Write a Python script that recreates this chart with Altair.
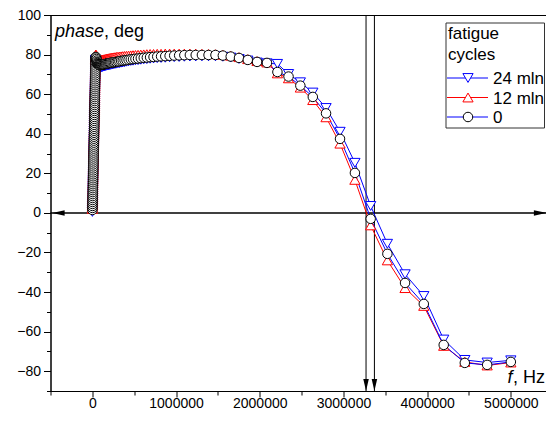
import altair as alt
import pandas as pd

FONT = "Liberation Sans"

# ---------------- data ----------------
# low-frequency points (all drawn at f ~ 0, the dense vertical stack)
freq_low = [
    600, 1100, 1600, 2100, 2600, 3100, 3600, 4100, 4600, 5100,
    5600, 6100, 6600, 7100, 7600, 8100, 8600, 9100, 9600, 10100,
    10600, 11100, 11600, 12100, 12600, 13100, 13600, 14100, 14600, 15100,
    15600, 16100, 16600, 17100, 17600, 18100, 18600, 19100, 19600, 20100,
    20600, 21100, 21600, 22100, 22600, 23100, 23600, 24100, 24600, 25100,
    25600, 26100, 26600, 27100, 27600, 28100, 28600, 29100, 29600, 30100,
    30600, 31100, 31600, 32100, 32600, 33100, 33600, 34100, 34600, 35100,
    35600, 36100, 36600, 37100, 37600, 38100, 38600, 39100, 39600, 40100,
    40600,
]
freq_high = [
    47200, 50000, 53000, 56000, 60000, 63000, 67000, 71000, 75000, 80000,
    85000, 90000, 95000, 101000, 107000, 113000, 120000, 127000, 135000, 143000,
    152000, 161000, 170000, 181000, 191000, 203000, 215000, 228000, 242000, 256000,
    271000, 288000, 305000, 323000, 343000, 363000, 385000, 408000, 433000, 459000,
    486000, 515000, 546000, 579000, 614000, 651000, 690000, 731000, 775000, 821000,
    871000, 923000, 978000, 1037000, 1099000, 1165000, 1235000, 1309000, 1388000, 1471000,
    1559000, 1653000, 1752000, 1857000, 1968000, 2086000, 2211000, 2344000, 2485000, 2634000,
    2792000, 2959000, 3137000, 3325000, 3525000, 3736000, 3960000, 4198000, 4450000, 4717000,
    5000000,
]

phase_0 = [
    1.5, 2.5, 3.5, 4.5, 5.5, 6.5, 7.5, 8.5, 9.5, 10.5,
    11.5, 12.5, 13.5, 14.5, 15.5, 16.5, 17.5, 18.5, 19.5, 20.5,
    21.5, 22.5, 23.5, 24.5, 25.5, 26.5, 27.5, 28.5, 29.5, 30.5,
    31.5, 32.5, 33.5, 34.5, 35.5, 36.5, 37.5, 38.5, 39.5, 40.5,
    41.5, 42.5, 43.5, 44.5, 45.5, 46.5, 47.5, 48.5, 49.5, 50.5,
    51.5, 52.5, 53.5, 54.5, 55.5, 56.5, 57.5, 58.5, 59.5, 60.5,
    61.5, 62.5, 63.5, 64.5, 65.5, 66.5, 67.5, 68.5, 69.5, 70.5,
    71.5, 72.5, 73.5, 74.5, 75.5, 76.3, 77.0, 77.6, 78.1, 78.5,
    78.8,
    78.5, 77.8, 77.0, 76.3, 75.8, 75.4, 75.1, 74.9, 74.8, 74.7,
    74.7, 74.7, 74.7, 74.8, 74.8, 74.9, 74.9, 75.0, 75.1, 75.1,
    75.2, 75.3, 75.4, 75.5, 75.6, 75.7, 75.8, 75.9, 76.0, 76.1,
    76.2, 76.3, 76.5, 76.6, 76.8, 76.9, 77.1, 77.2, 77.4, 77.6,
    77.7, 77.9, 78.0, 78.2, 78.4, 78.5, 78.7, 78.8, 79.0, 79.1,
    79.2, 79.4, 79.5, 79.6, 79.7, 79.8, 79.8, 79.8, 79.8, 79.8,
    79.5, 79.0, 78.3, 77.3, 76.3, 75.8, 71.2, 68.9, 64.3, 58.6,
    50.3, 37.4, 20.2, -3.0, -20.7, -35.4, -46.0, -66.7, -75.8, -76.8,
    -75.3,
]

phase_24 = [
    0.5, 1.5, 2.5, 3.5, 4.5, 5.5, 6.5, 7.5, 8.5, 9.5,
    10.5, 11.5, 12.5, 13.5, 14.5, 15.5, 16.5, 17.5, 18.5, 19.5,
    20.5, 21.5, 22.5, 23.5, 24.5, 25.5, 26.5, 27.5, 28.5, 29.5,
    30.5, 31.5, 32.5, 33.5, 34.5, 35.5, 36.5, 37.5, 38.5, 39.5,
    40.5, 41.5, 42.5, 43.5, 44.5, 45.5, 46.5, 47.5, 48.5, 49.5,
    50.5, 51.5, 52.5, 53.5, 54.5, 55.5, 56.5, 57.5, 58.5, 59.5,
    60.5, 61.5, 62.5, 63.5, 64.5, 65.5, 66.5, 67.5, 68.5, 69.5,
    70.5, 71.5, 72.5, 73.5, 74.5, 75.3, 76.0, 76.5, 76.9, 77.2,
    77.4,
    77.0, 76.3, 75.5, 74.8, 74.3, 73.9, 73.6, 73.5, 73.4, 73.4,
    73.4, 73.4, 73.5, 73.6, 73.6, 73.7, 73.8, 73.9, 74.0, 74.1,
    74.2, 74.3, 74.4, 74.5, 74.6, 74.7, 74.8, 74.9, 75.0, 75.2,
    75.3, 75.4, 75.6, 75.7, 75.9, 76.0, 76.2, 76.4, 76.6, 76.8,
    76.9, 77.1, 77.2, 77.4, 77.6, 77.7, 77.9, 78.0, 78.2, 78.3,
    78.4, 78.6, 78.7, 78.8, 78.9, 79.0, 79.0, 79.1, 79.1, 79.1,
    78.9, 78.5, 77.8, 77.0, 76.0, 75.6, 75.3, 70.2, 66.0, 60.8,
    53.0, 41.0, 25.3, 3.5, -15.6, -31.0, -42.0, -64.0, -74.3, -75.6,
    -74.5,
]

phase_12 = [
    2.0, 3.0, 4.0, 5.0, 6.0, 7.0, 8.0, 9.0, 10.0, 11.0,
    12.0, 13.0, 14.0, 15.0, 16.0, 17.0, 18.0, 19.0, 20.0, 21.0,
    22.0, 23.0, 24.0, 25.0, 26.0, 27.0, 28.0, 29.0, 30.0, 31.0,
    32.0, 33.0, 34.0, 35.0, 36.0, 37.0, 38.0, 39.0, 40.0, 41.0,
    42.0, 43.0, 44.0, 45.0, 46.0, 47.0, 48.0, 49.0, 50.0, 51.0,
    52.0, 53.0, 54.0, 55.0, 56.0, 57.0, 58.0, 59.0, 60.0, 61.0,
    62.0, 63.0, 64.0, 65.0, 66.0, 67.0, 68.0, 69.0, 70.0, 71.0,
    72.0, 73.0, 74.0, 75.0, 76.0, 77.0, 77.8, 78.5, 79.1, 79.6,
    80.0,
    79.8, 79.3, 78.7, 78.2, 77.8, 77.5, 77.3, 77.2, 77.1, 77.1,
    77.1, 77.1, 77.2, 77.2, 77.3, 77.3, 77.4, 77.5, 77.6, 77.6,
    77.7, 77.8, 77.9, 78.0, 78.1, 78.2, 78.3, 78.4, 78.5, 78.6,
    78.7, 78.8, 78.9, 79.0, 79.1, 79.2, 79.3, 79.4, 79.5, 79.6,
    79.7, 79.8, 79.9, 80.0, 80.1, 80.2, 80.3, 80.3, 80.4, 80.4,
    80.5, 80.5, 80.5, 80.5, 80.5, 80.5, 80.5, 80.4, 80.3, 80.2,
    79.9, 79.4, 78.7, 77.7, 76.7, 76.0, 70.5, 68.0, 63.3, 57.0,
    48.3, 35.0, 16.7, -6.3, -24.0, -38.0, -47.0, -67.2, -75.3, -77.1,
    -75.6,
]

series_names = ["24 mln", "12 mln", "0"]
x_ticks = [0, 1000000, 2000000, 3000000, 4000000, 5000000]
x_minor = [-500000, 500000, 1500000, 2500000, 3500000, 4500000]
y_ticks = [-80, -60, -40, -20, 0, 20, 40, 60, 80, 100]
y_minor = [-90, -70, -50, -30, -10, 10, 30, 50, 70, 90]
marker_lines = [3270000, 3370000]
x_domain = [-500000, 5420000]
y_domain = [-90, 100]

# ---------------- tables ----------------
freq = freq_low + freq_high
df = pd.concat(
    [pd.DataFrame({"f": freq, "phase": vals, "series": name})
     for name, vals in zip(series_names, [phase_24, phase_12, phase_0])],
    ignore_index=True,
)
one = pd.DataFrame({"k": [0]})
zero_df = pd.DataFrame({"x": [x_domain[0]], "x2": [x_domain[1]], "y": [0]})
vline_df = pd.DataFrame({"f": marker_lines, "y": [y_domain[0]] * len(marker_lines)})
right_arrow_df = pd.DataFrame({"f": [x_domain[1]], "y": [0]})
left_arrow_df = pd.DataFrame({"f": [x_domain[0]], "y": [0]})

W, H = 495.5, 376
xs = alt.Scale(domain=x_domain, nice=False, zero=False)
ys = alt.Scale(domain=y_domain, nice=False, zero=False)

x_major = alt.Axis(values=x_ticks, format="d", orient="bottom", tickSize=6, labelPadding=-1,
                   domainColor="black", tickColor="black", labelColor="black",
                   labelFont=FONT, labelFontSize=14, grid=False, title=None)
y_major = alt.Axis(values=y_ticks, orient="left", tickSize=7, labelPadding=3,
                   domainColor="black", tickColor="black", labelColor="black",
                   labelFont=FONT, labelFontSize=14, grid=False, title=None)
x_min_ax = alt.Axis(values=x_minor, orient="bottom", labels=False, tickSize=4, domain=False,
                    tickColor="black", grid=False, title=None)
y_min_ax = alt.Axis(values=y_minor, orient="left", labels=False, tickSize=4, domain=False,
                    tickColor="black", grid=False, title=None)

axis_major = alt.Chart(df).mark_point(opacity=0).encode(
    x=alt.X("f:Q", scale=xs, axis=x_major), y=alt.Y("phase:Q", scale=ys, axis=y_major))
axis_minor = alt.Chart(df).mark_point(opacity=0).encode(
    x=alt.X("f:Q", scale=xs, axis=x_min_ax), y=alt.Y("phase:Q", scale=ys, axis=y_min_ax))

X = lambda: alt.X("f:Q", scale=xs, axis=None)
Y = lambda: alt.Y("phase:Q", scale=ys, axis=None)

zero_line = alt.Chart(zero_df).mark_rule(color="black", strokeWidth=1.5).encode(
    x=alt.X("x:Q", scale=xs, axis=None), x2="x2:Q", y=alt.Y("y:Q", scale=ys, axis=None))
vlines = alt.Chart(vline_df).mark_rule(color="black", strokeWidth=1).encode(
    x=alt.X("f:Q", scale=xs, axis=None))
down_arrows = alt.Chart(vline_df).mark_point(
    shape="M0,1L-0.45,-1L0.45,-1Z", filled=True, color="black", opacity=1, size=150, yOffset=-6
).encode(x=alt.X("f:Q", scale=xs, axis=None), y=alt.Y("y:Q", scale=ys, axis=None))
right_arrow = alt.Chart(right_arrow_df).mark_point(
    shape="M1,0L-1,-0.45L-1,0.45Z", filled=True, color="black", opacity=1, size=150, xOffset=-6
).encode(x=alt.X("f:Q", scale=xs, axis=None), y=alt.Y("y:Q", scale=ys, axis=None))
left_arrow = alt.Chart(left_arrow_df).mark_point(
    shape="M-1,0L1,-0.45L1,0.45Z", filled=True, color="black", opacity=1, size=150, xOffset=8
).encode(x=alt.X("f:Q", scale=xs, axis=None), y=alt.Y("y:Q", scale=ys, axis=None))

styles = {
    "24 mln": dict(line="#0000FF", stroke="#0000FF", shape="triangle-down", size=105),
    "12 mln": dict(line="#FF0000", stroke="#FF0000", shape="triangle-up", size=105),
    "0": dict(line="#0000FF", stroke="black", shape="circle", size=90),
}

line_layers = []
point_layers = []
for name in series_names:
    st = styles[name]
    sub = df[df["series"] == name]
    line_layers.append(
        alt.Chart(sub).mark_line(color=st["line"], strokeWidth=1).encode(x=X(), y=Y()))
    point_layers.append(
        alt.Chart(sub).mark_point(shape=st["shape"], size=st["size"], filled=True, fill="white",
                                  stroke=st["stroke"], strokeWidth=1, opacity=1)
        .encode(x=X(), y=Y()))

# axis titles inside the plot
t_phase = alt.Chart(one).mark_text(text="phase", font=FONT, fontSize=18, fontStyle="italic",
                                   align="left", baseline="alphabetic", color="black").encode(
    x=alt.value(4.5), y=alt.value(22))
t_deg = alt.Chart(one).mark_text(text=", deg", font=FONT, fontSize=18,
                                 align="left", baseline="alphabetic", color="black").encode(
    x=alt.value(53.5), y=alt.value(22))
t_hz = alt.Chart(one).mark_text(text=", Hz", font=FONT, fontSize=18,
                                align="right", baseline="alphabetic", color="black").encode(
    x=alt.value(494.5), y=alt.value(368))
t_f = alt.Chart(one).mark_text(text="f", font=FONT, fontSize=18, fontStyle="italic",
                               align="right", baseline="alphabetic", color="black").encode(
    x=alt.value(462), y=alt.value(368))

# legend (drawn by hand)
leg_box = alt.Chart(one).mark_rect(fill="white", stroke="#333333", strokeWidth=1).encode(
    x=alt.value(395.5), x2=alt.value(494), y=alt.value(8), y2=alt.value(113))
leg_title1 = alt.Chart(one).mark_text(text="fatigue", font=FONT, fontSize=17, align="left",
                                      baseline="alphabetic", color="black").encode(
    x=alt.value(397.5), y=alt.value(24))
leg_title2 = alt.Chart(one).mark_text(text="cycles", font=FONT, fontSize=17, align="left",
                                      baseline="alphabetic", color="black").encode(
    x=alt.value(397.5), y=alt.value(45))
legend_layers = [leg_box, leg_title1, leg_title2]
for i, name in enumerate(series_names):
    st = styles[name]
    yy = 63 + 19.5 * i
    legend_layers.append(alt.Chart(one).mark_rule(color=st["line"], strokeWidth=1).encode(
        x=alt.value(396.5), x2=alt.value(437.5), y=alt.value(yy)))
    legend_layers.append(alt.Chart(one).mark_point(
        shape=st["shape"], size=st["size"], filled=True, fill="white", stroke=st["stroke"],
        strokeWidth=1, opacity=1).encode(x=alt.value(417.5), y=alt.value(yy)))
    legend_layers.append(alt.Chart(one).mark_text(
        text=name, font=FONT, fontSize=17, align="left", baseline="middle", color="black").encode(
        x=alt.value(442.5), y=alt.value(yy + 1)))

chart = alt.layer(
    axis_major, axis_minor, zero_line, vlines, down_arrows, right_arrow, left_arrow,
    *line_layers, *point_layers, t_phase, t_deg, t_hz, t_f, *legend_layers,
).resolve_axis(x="independent", y="independent").properties(
    width=W, height=H,
    autosize=alt.AutoSizeParams(type="none"),
    padding={"left": 42.5, "top": 7, "right": 0, "bottom": 20},
    background="white",
).configure_view(stroke="black", strokeWidth=1)

chart.save("out.html", embed_options={"renderer": "svg", "actions": False})
